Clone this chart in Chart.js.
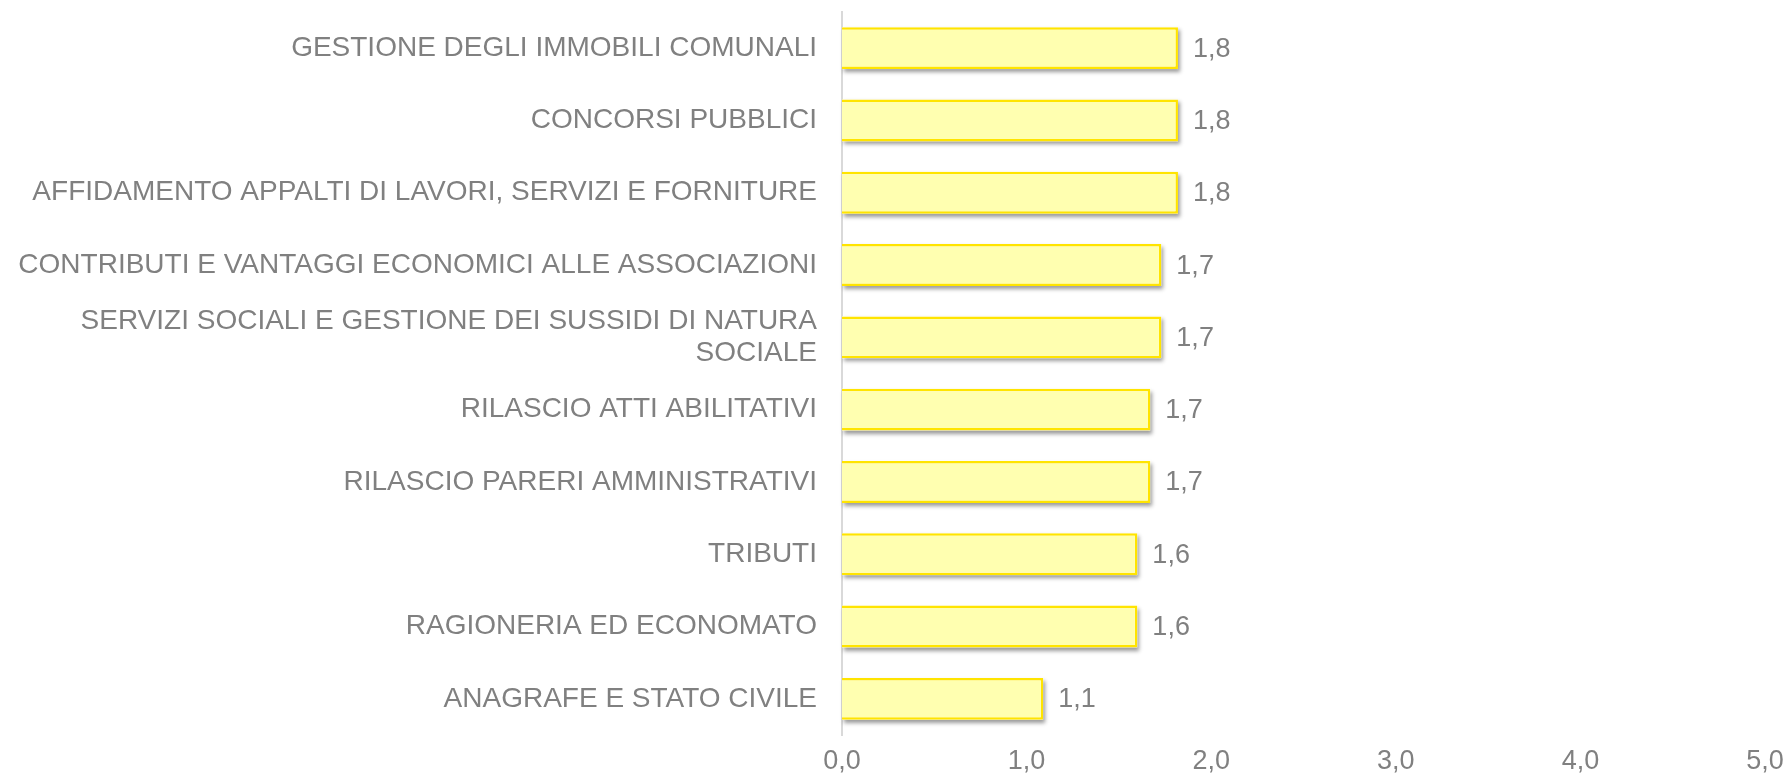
<!DOCTYPE html>
<html>
<head>
<meta charset="utf-8">
<script src="https://cdn.jsdelivr.net/npm/chart.js@4/dist/chart.umd.min.js"></script>
<style>
  html, body { margin: 0; padding: 0; background: #fff; }
  canvas { display: block; }
</style>
</head>
<body>
<canvas id="grafico" width="1789" height="783"></canvas>
<script>
const categorie = [
  "GESTIONE DEGLI IMMOBILI COMUNALI",
  "CONCORSI PUBBLICI",
  "AFFIDAMENTO APPALTI DI LAVORI, SERVIZI E FORNITURE",
  "CONTRIBUTI E VANTAGGI ECONOMICI ALLE ASSOCIAZIONI",
  ["SERVIZI SOCIALI E GESTIONE DEI SUSSIDI DI NATURA", "SOCIALE"],
  "RILASCIO ATTI ABILITATIVI",
  "RILASCIO PARERI AMMINISTRATIVI",
  "TRIBUTI",
  "RAGIONERIA ED ECONOMATO",
  "ANAGRAFE E STATO CIVILE"
]
const valori = [1.82, 1.82, 1.82, 1.73, 1.73, 1.67, 1.67, 1.60, 1.60, 1.09]
const tickX = [0, 1, 2, 3, 4, 5]

const grigio = "#808080"
const fontFam = "'Liberation Sans', Arial, sans-serif"
const virgola = (v) => v.toFixed(1).replace(".", ",")

// riempimento sfumato per ogni barra
const sfumatura = (ctx) => {
  const chart = ctx.chart
  const bar = chart.getDatasetMeta(0).data[ctx.dataIndex]
  if (!chart.chartArea || !bar || !bar.height) return "#ffffb0"
  const top = bar.y - bar.height / 2
  const g = chart.ctx.createLinearGradient(0, top, 0, top + bar.height)
  g.addColorStop(0, "#ffffcc")
  g.addColorStop(1, "#ffff72")
  return g
}

// ombra sotto le barre, disegnata prima delle barre
const ombra = {
  id: "ombra",
  beforeDatasetsDraw(chart) {
    const c = chart.ctx
    c.save()
    c.shadowColor = "rgba(0,0,0,0.4)"
    c.shadowBlur = 4
    c.shadowOffsetX = 2
    c.shadowOffsetY = 3
    c.fillStyle = "#ffffff"
    chart.getDatasetMeta(0).data.forEach((bar) => {
      c.fillRect(bar.base, bar.y - bar.height / 2, bar.x - bar.base, bar.height)
    })
    c.restore()
  }
}

const etichette = {
  id: "etichette",
  afterDraw(chart) {
    const c = chart.ctx
    c.save()
    c.font = "27px " + fontFam
    c.fillStyle = grigio
    c.textAlign = "left"
    c.textBaseline = "middle"
    chart.getDatasetMeta(0).data.forEach((bar, i) => {
      c.fillText(virgola(valori[i]), bar.x + 15, bar.y + 1)
    })
    c.restore()
  }
}

const config = {
  type: "bar",
  data: {
    labels: categorie,
    datasets: [{
      data: valori,
      backgroundColor: sfumatura,
      borderColor: "#ffe400",
      borderWidth: 2.5,
      borderSkipped: "start",
      barPercentage: 0.58,
      categoryPercentage: 1
    }]
  },
  options: {
    indexAxis: "y",
    responsive: false,
    animation: false,
    layout: { padding: { top: 12, right: 24, left: 0, bottom: 0 } },
    plugins: { legend: { display: false }, tooltip: { enabled: false } },
    scales: {
      x: {
        min: 0,
        max: 5,
        afterBuildTicks: (s) => { s.ticks = tickX.map(v => ({ value: v })) },
        grid: { display: false, drawTicks: false },
        border: { display: false },
        ticks: {
          padding: 10,
          color: grigio,
          font: { family: fontFam, size: 27 },
          callback: (v) => virgola(v),
          maxRotation: 0
        },
        afterFit: (s) => { s.height = 48; s.paddingRight = 0; s.paddingLeft = 0 }
      },
      y: {
        grid: { display: false, drawTicks: false },
        border: { display: true, color: "#d9d9d9", width: 2 },
        ticks: {
          padding: 25,
          color: grigio,
          font: { family: fontFam, size: 28, lineHeight: 1.15 },
          autoSkip: false
        },
        afterFit: (s) => { s.width = 842; s.paddingTop = 0; s.paddingBottom = 0 }
      }
    }
  },
  plugins: [ombra, etichette]
}

new Chart(document.getElementById("grafico"), config)
</script>
</body>
</html>
